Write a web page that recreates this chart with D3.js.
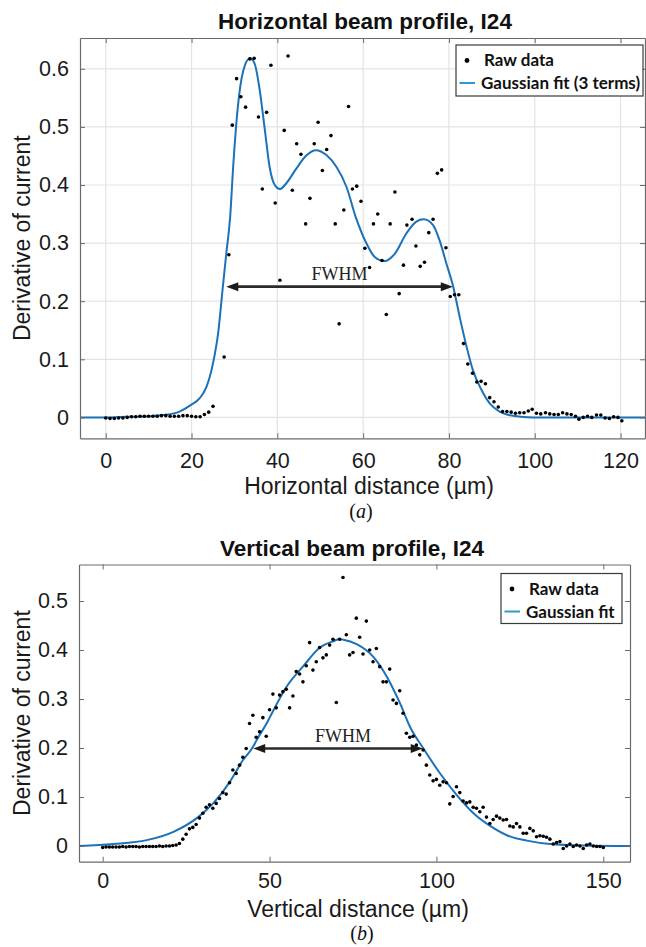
<!DOCTYPE html>
<html>
<head>
<meta charset="utf-8">
<script src="https://cdnjs.cloudflare.com/ajax/libs/d3/7.8.5/d3.min.js"></script>
<style>
  body { margin: 0; background: #fff; }
  svg { display: block; }
  .tick text { font-family: "Liberation Sans", Arial, sans-serif; font-size: 21.5px; fill: #1a1a1a; }
  .axisText { font-family: "Liberation Sans", Arial, sans-serif; font-size: 23px; fill: #1a1a1a; }
  .title { font-family: "Liberation Sans", Arial, sans-serif; font-size: 22.5px; font-weight: bold; fill: #111; }
  .legendText { font-family: Lato, sans-serif; font-weight: bold; font-size: 17px; fill: #111; }
  .fwhm { font-family: "Liberation Serif", serif; font-size: 18px; fill: #222; }
  .panelTag { font-family: "Liberation Serif", serif; font-size: 20px; fill: #111; }
</style>
</head>
<body>
<script>
// (a) horizontal scan
var hDistance = [0, 1, 2, 3, 4, 5, 6, 7, 8, 9, 10, 11, 12, 13, 14, 15, 16, 17, 18, 19, 20, 21, 22, 23, 24, 25,
  27.6, 28.7, 29.5, 30.5, 31.5, 32.6, 33.6, 34.6, 35.6, 36.5, 37.5, 38.5, 39.5, 40.6, 41.6, 42.5, 43.5, 44.5,
  45.5, 46.6, 47.6, 48.6, 49.5, 50.5, 51.5, 52.5, 53.5, 54.4, 55.5, 56.6, 57.5, 58.5, 59.5, 60.4, 61.5, 62.4,
  63.4, 64.4, 65.4, 66.3, 67.4, 68.4, 69.4, 70.2, 71.4, 72.3, 73.3, 74.3, 75.3, 76.3, 77.3, 78.3, 79.3, 80.3,
  81.3, 82.3, 83.4, 84.4, 85.5, 86.5, 87.5, 88.5, 89.5, 90.5, 91.5, 92.5, 93.5, 94.5, 95.5, 96.5, 97.5, 98.5,
  99.4, 100.4, 101.4, 102.5, 103.5, 104.5, 105.5, 106.5, 107.5, 108.5, 109.5, 110.3, 111.3, 112.3, 113.3,
  114.4, 115.4, 116.4, 117.4, 118.4, 119.4, 120.3];
var hRaw = [-0.001, -0.002, -0.002, -0.001, -0.001, 0.000, 0.001, 0.001, 0.002, 0.002, 0.002, 0.002, 0.002,
  0.003, 0.003, 0.002, 0.002, 0.002, 0.003, 0.003, 0.002, 0.001, 0.001, 0.005, 0.009, 0.019,
  0.104, 0.280, 0.503, 0.583, 0.552, 0.534, 0.617, 0.618, 0.517, 0.393, 0.525, 0.606, 0.369, 0.236, 0.494,
  0.622, 0.391, 0.471, 0.453, 0.333, 0.377, 0.471, 0.508, 0.425, 0.461, 0.485, 0.333, 0.161, 0.357, 0.535,
  0.393, 0.398, 0.372, 0.291, 0.258, 0.333, 0.350, 0.270, 0.177, 0.333, 0.388, 0.213, 0.262, 0.331, 0.341,
  0.295, 0.260, 0.267, 0.318, 0.341, 0.420, 0.426, 0.292, 0.208, 0.211, 0.211, 0.127, 0.092, 0.076, 0.061,
  0.062, 0.058, 0.034, 0.027, 0.018, 0.010, 0.010, 0.009, 0.007, 0.008, 0.008, 0.011, 0.014, 0.007, 0.006,
  0.008, 0.006, 0.005, 0.005, 0.008, 0.006, 0.005, 0.002, -0.003, 0.000, 0.002, 0.000, 0.004, 0.004,
  -0.001, -0.002, 0.001, 0.000, -0.006];
var hFitDistance = [-6, 0, 5, 10, 13.4, 17.2, 19.8, 21.9, 23.5, 25.0, 26.2, 27.3, 28.1, 29.0, 29.7, 30.8,
  32.0, 33.6, 34.7, 35.9, 37.1, 38.2, 39.4, 40.6, 42.1, 44.5, 46.8, 49.0, 51.5, 53.8, 56.1, 58.4, 60.8,
  62.7, 65.0, 67.4, 70.1, 72.4, 74.1, 76.3, 77.8, 79.4, 81.0, 82.5, 84.1, 85.6, 87.6, 89.5, 91.8, 94.9,
  99.6, 110, 126];
var hFit = [0, 0, 0.001, 0.002, 0.004, 0.010, 0.021, 0.033, 0.053, 0.093, 0.145, 0.225, 0.282, 0.345, 0.431,
  0.535, 0.595, 0.618, 0.609, 0.563, 0.494, 0.431, 0.400, 0.393, 0.403, 0.429, 0.451, 0.460, 0.451, 0.431,
  0.397, 0.342, 0.299, 0.276, 0.269, 0.282, 0.317, 0.337, 0.341, 0.331, 0.305, 0.265, 0.225, 0.173, 0.122,
  0.081, 0.047, 0.024, 0.010, 0.003, 0, 0, 0];
var hTicksX = [0, 20, 40, 60, 80, 100, 120];
var hTicksY = [0, 0.1, 0.2, 0.3, 0.4, 0.5, 0.6];
var hTickLabelsY = ["0", "0.1", "0.2", "0.3", "0.4", "0.5", "0.6"];
var hFwhm = [28.1, 80.9, 0.225];

// (b) vertical scan
var vDistance = [0, 1, 2, 3, 4, 5, 6, 7, 8, 9, 10, 11, 12, 13, 14, 15, 16, 17, 18, 19, 20, 21, 22, 23, 24,
  25, 26, 27, 28, 29, 30, 31, 32, 33, 34, 35, 36, 37, 38, 39, 40, 41, 42, 43, 44, 45, 46, 47, 48, 49, 50,
  51, 52, 53, 54, 55, 56, 57, 58, 59, 60, 61, 62, 63, 64, 65, 66, 67, 68, 69, 70, 71, 72, 73, 74, 75, 76,
  77, 78, 79, 80, 81, 82, 83, 84, 85, 86, 87, 88, 89, 90, 91, 92, 93, 94, 95, 96, 97, 98, 99, 100, 101, 102,
  103, 104, 105, 106, 107, 108, 109, 110, 111, 112, 113, 114, 115, 116, 117, 118, 119, 120, 121, 122, 123,
  124, 125, 126, 127, 128, 129, 130, 131, 132, 133, 134, 135, 136, 137, 138, 139, 140, 141, 142, 143, 144,
  145, 146, 147, 148, 149, 150];
var vRaw = [-0.003, -0.002, -0.002, -0.002, -0.002, -0.002, -0.001, -0.002, -0.001, -0.001, -0.001, -0.002,
  -0.001, -0.001, -0.001, -0.001, -0.001, 0.000, -0.001, 0.000, 0.000, 0.001, 0.002,
  0.005, 0.014, 0.024, 0.035, 0.038, 0.044, 0.057, 0.067, 0.079, 0.084, 0.077, 0.087, 0.097, 0.109, 0.106,
  0.129, 0.155, 0.148, 0.165, 0.181, 0.199, 0.250, 0.267, 0.222, 0.233, 0.262, 0.224, 0.278, 0.310, 0.282,
  0.308, 0.315, 0.320, 0.282, 0.306, 0.356, 0.351, 0.335, 0.368, 0.415, 0.359, 0.376, 0.405, 0.384, 0.390,
  0.410, 0.422, 0.293, 0.422, 0.548, 0.431, 0.390, 0.395, 0.465, 0.426, 0.392, 0.459, 0.400, 0.376, 0.403,
  0.366, 0.335, 0.335, 0.361, 0.298, 0.291, 0.317, 0.271, 0.230, 0.222, 0.224, 0.206, 0.186, 0.196, 0.165,
  0.145, 0.133, 0.136, 0.124, 0.131, 0.129, 0.086, 0.101, 0.121, 0.109, 0.092, 0.088, 0.090, 0.079, 0.077,
  0.070, 0.079, 0.059, 0.046, 0.054, 0.061, 0.057, 0.053, 0.054, 0.041, 0.039, 0.046, 0.039, 0.026, 0.026,
  0.036, 0.031, 0.019, 0.021, 0.020, 0.018, 0.014, 0.004, 0.007, 0.009, -0.005, 0.000, 0.004, -0.001, 0.002,
  0.000, -0.005, 0.002, 0.004, 0.000, -0.001, -0.001, -0.003];
var vFitDistance = [-7, 3.2, 13.2, 21.2, 28.6, 33.1, 38.1, 42.1, 45.1, 46.1, 49.1, 50.1, 55.1, 60.1, 65.1,
  69.1, 70.9, 72.1, 76.1, 81.1, 85.1, 89.1, 92.1, 96.1, 101.1, 106.1, 111.1, 116.1, 121.1, 127.1, 134.1,
  144, 158];
var vFit = [0.000, 0.004, 0.012, 0.029, 0.059, 0.087, 0.131, 0.176, 0.203, 0.216, 0.250, 0.263, 0.325, 0.367,
  0.405, 0.418, 0.422, 0.421, 0.412, 0.386, 0.346, 0.291, 0.243, 0.199, 0.148, 0.104, 0.067, 0.041, 0.022,
  0.011, 0.004, 0.001, 0];
var vTicksX = [0, 50, 100, 150];
var vTicksY = [0, 0.1, 0.2, 0.3, 0.4, 0.5];
var vTickLabelsY = ["0", "0.1", "0.2", "0.3", "0.4", "0.5"];
var vFwhm = [45.1, 95.9, 0.199];

var svgWidth = 646;
var svgHeight = 947;

var svg = d3.select("body")
  .append("svg")
  .attr("width", svgWidth)
  .attr("height", svgHeight);

function drawPanel(p) {
  var xScale = d3.scaleLinear().domain(p.xDomain).range([p.left, p.right]);
  var yScale = d3.scaleLinear().domain(p.yDomain).range([p.bottom, p.top]);
  var g = svg.append("g");

  if (p.grid) {
    g.selectAll(".vgrid").data(p.xTicks).enter().append("line")
      .attr("x1", d => xScale(d)).attr("x2", d => xScale(d))
      .attr("y1", p.top).attr("y2", p.bottom)
      .attr("stroke", "#e3e3e3").attr("stroke-width", 1.2);
    g.selectAll(".hgrid").data(p.yTicks).enter().append("line")
      .attr("x1", p.left).attr("x2", p.right)
      .attr("y1", d => yScale(d)).attr("y2", d => yScale(d))
      .attr("stroke", "#e3e3e3").attr("stroke-width", 1.2);
  }

  // fit curve
  var fitData = p.fitX.map((d, i) => ({ x: d, y: p.fitY[i] }));
  var line = d3.line()
    .x(d => xScale(d.x))
    .y(d => yScale(d.y))
    .curve(d3.curveMonotoneX);
  g.append("path")
    .datum(fitData)
    .attr("d", line)
    .attr("fill", "none")
    .attr("stroke", "#1b72b8")
    .attr("stroke-width", 2);

  // raw points
  var rawData = p.rawX.map((d, i) => ({ x: d, y: p.rawY[i] }));
  g.selectAll(".dot").data(rawData).enter().append("circle")
    .attr("cx", d => xScale(d.x))
    .attr("cy", d => yScale(d.y))
    .attr("r", 1.8)
    .attr("fill", "#000");

  // FWHM arrow
  var ax1 = xScale(p.fwhm[0]), ax2 = xScale(p.fwhm[1]), ay = yScale(p.fwhm[2]);
  g.append("line")
    .attr("x1", ax1 + 8).attr("x2", ax2 - 8)
    .attr("y1", ay).attr("y2", ay)
    .attr("stroke", "#2a2a2a").attr("stroke-width", 2.6);
  g.append("path")
    .attr("d", `M${ax1},${ay} L${ax1 + 12},${ay - 4.5} L${ax1 + 12},${ay + 4.5} Z`)
    .attr("fill", "#1a1a1a");
  g.append("path")
    .attr("d", `M${ax2},${ay} L${ax2 - 12},${ay - 4.5} L${ax2 - 12},${ay + 4.5} Z`)
    .attr("fill", "#1a1a1a");
  g.append("text")
    .attr("class", "fwhm")
    .attr("x", (ax1 + ax2) / 2 + p.fwhmShift)
    .attr("y", ay - 7)
    .attr("text-anchor", "middle")
    .text("FWHM");

  // axes, ticks pointing inward
  var labelY = (d, i) => p.yLabels[i];
  g.append("g").attr("class", "x-axis")
    .attr("transform", `translate(0, ${p.bottom})`)
    .call(d3.axisBottom(xScale).tickValues(p.xTicks).tickSizeInner(-5).tickSizeOuter(0).tickPadding(p.xPad));
  g.append("g")
    .attr("transform", `translate(0, ${p.top})`)
    .call(d3.axisTop(xScale).tickValues(p.xTicks).tickSizeInner(-5).tickSizeOuter(0).tickFormat(""));
  g.append("g").attr("class", "y-axis")
    .attr("transform", `translate(${p.left}, 0)`)
    .call(d3.axisLeft(yScale).tickValues(p.yTicks).tickSizeInner(-5).tickSizeOuter(0).tickPadding(11).tickFormat(labelY));
  g.append("g")
    .attr("transform", `translate(${p.right}, 0)`)
    .call(d3.axisRight(yScale).tickValues(p.yTicks).tickSizeInner(-5).tickSizeOuter(0).tickFormat(""));
  g.selectAll(".domain").attr("stroke", "#6a6a6a").attr("stroke-width", 1.2);
  g.selectAll(".tick line").attr("stroke", "#6a6a6a");

  // titles and labels
  g.append("text")
    .attr("class", "title")
    .attr("x", p.titleX).attr("y", p.top - 9)
    .attr("text-anchor", "middle")
    .text(p.title);
  g.append("text")
    .attr("class", "axisText")
    .attr("x", p.xLabelX).attr("y", p.bottom + 55.5)
    .attr("text-anchor", "middle")
    .text(p.xLabel);
  g.append("text")
    .attr("class", "axisText")
    .attr("transform", `translate(30, ${(p.top + p.bottom) / 2}) rotate(-90)`)
    .attr("text-anchor", "middle")
    .text("Derivative of current");
  var tag = g.append("text")
    .attr("class", "panelTag")
    .attr("x", p.tagX).attr("y", p.bottom + p.tagDy)
    .attr("text-anchor", "middle");
  tag.append("tspan").text("(");
  tag.append("tspan").attr("font-style", "italic").text(p.tag);
  tag.append("tspan").text(")");

  // legend
  var lg = g.append("g").attr("transform", `translate(${p.legend.x}, ${p.legend.y})`);
  lg.append("rect")
    .attr("width", p.legend.w).attr("height", p.legend.h)
    .attr("fill", "#fff").attr("stroke", "#3a3a3a").attr("stroke-width", 1.2);
  lg.append("circle").attr("cx", 11).attr("cy", 15.5).attr("r", 2.4).attr("fill", "#000");
  lg.append("text").attr("class", "legendText").attr("x", p.legend.tx).attr("y", 21).text("Raw data");
  lg.append("line")
    .attr("x1", 3.5).attr("x2", 19).attr("y1", 38).attr("y2", 38)
    .attr("stroke", "#2a9ad6").attr("stroke-width", 2);
  lg.append("text").attr("class", "legendText").attr("x", p.legend.tx - 3).attr("y", 44).text(p.legend.fitLabel);
}

drawPanel({
  left: 80, right: 645, top: 38, bottom: 438.3,
  xDomain: [-6, 125.7], yDomain: [-0.036, 0.653],
  xTicks: hTicksX, yTicks: hTicksY, yLabels: hTickLabelsY,
  rawX: hDistance, rawY: hRaw, fitX: hFitDistance, fitY: hFit,
  fwhm: hFwhm, fwhmShift: 0, grid: true, xPad: 14,
  title: "Horizontal beam profile, I24", titleX: 365,
  xLabel: "Horizontal distance (\u00b5m)", xLabelX: 369,
  tag: "a", tagX: 361, tagDy: 80,
  legend: { x: 456, y: 45, w: 187, h: 51, tx: 28, fitLabel: "Gaussian fit (3 terms)" }
});

drawPanel({
  left: 79, right: 630, top: 564.5, bottom: 861.7,
  xDomain: [-7.1, 158], yDomain: [-0.032, 0.5745],
  xTicks: vTicksX, yTicks: vTicksY, yLabels: vTickLabelsY,
  rawX: vDistance, rawY: vRaw, fitX: vFitDistance, fitY: vFit,
  fwhm: vFwhm, fwhmShift: 5, grid: false, xPad: 11,
  title: "Vertical beam profile, I24", titleX: 352,
  xLabel: "Vertical distance (\u00b5m)", xLabelX: 358,
  tag: "b", tagX: 362, tagDy: 78,
  legend: { x: 501, y: 573.5, w: 121, h: 50, tx: 28, fitLabel: "Gaussian fit" }
});
</script>
</body>
</html>
